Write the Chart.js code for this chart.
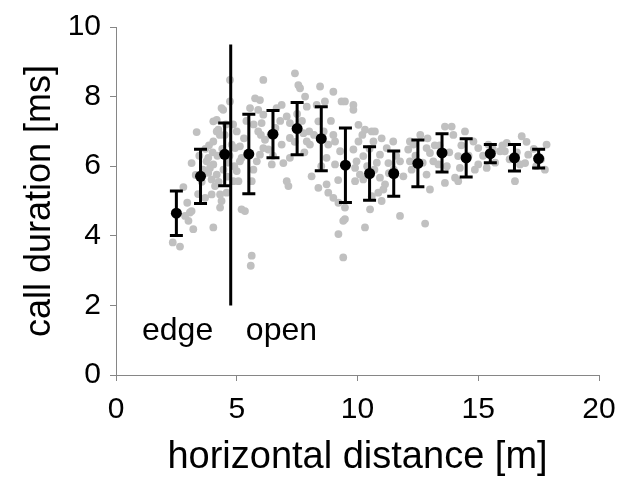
<!DOCTYPE html>
<html>
<head>
<meta charset="utf-8">
<script src="https://cdn.jsdelivr.net/npm/chart.js@4/dist/chart.umd.min.js"></script>
<style>
html,body{margin:0;padding:0;background:#fff;}
#wrap{width:617px;height:480px;}
</style>
</head>
<body>
<div id="wrap"><canvas id="c" width="617" height="480"></canvas></div>
<script>
// ---- data ----
const meanX = [2.5,3.5,4.5,5.5,6.5,7.5,8.5,9.5,10.5,11.5,12.5,13.5,14.5,15.5,16.5,17.5];
const meanY = [4.65,5.71,6.34,6.35,6.92,7.08,6.79,6.03,5.79,5.79,6.08,6.38,6.24,6.36,6.24,6.22];
const meanSD = [0.64,0.78,0.90,1.14,0.68,0.75,0.92,1.07,0.77,0.65,0.67,0.55,0.55,0.26,0.38,0.27];

const grayX = [
2.35,2.65,2.79,3.06,3.13,2.86,3.0,3.2,2.95,4.03,3.34,3.13,3.75,3.89,3.82,4.03,4.17,3.96,4.1,3.96,
4.31,4.37,4.31,3.69,3.82,4.17,4.17,4.03,4.37,4.72,4.72,4.79,4.93,5.13,5.0,4.86,5.2,4.58,4.03,4.24,
4.44,3.55,3.6,3.45,3.7,4.0,4.2,4.4,4.5,4.6,4.45,4.25,4.6,4.7,4.55,4.3,3.85,3.4,3.3,4.85,
4.9,5.13,5.2,5.07,5.0,5.3,5.4,5.62,5.58,5.34,
7.41,6.1,7.55,7.62,8.45,9.0,7.83,5.76,5.96,5.55,5.89,6.86,6.65,7.9,8.31,8.65,9.34,6.1,7.07,7.2,
8.38,6.03,5.89,6.17,6.1,6.31,6.86,7.2,7.76,7.9,8.03,8.79,9.07,9.28,8.72,9.07,5.83,5.96,5.69,6.45,
6.93,7.2,8.1,7.07,7.14,8.38,8.72,8.79,9.0,9.21,5.62,9.21,9.41,9.41,
6.6,6.4,7.5,7.7,8.0,8.2,6.8,7.4,6.0,5.7,8.6,8.9,6.5,7.8,8.5,9.2,9.0,
9.48,9.83,9.83,10.04,10.31,10.59,10.72,10.04,10.66,9.83,10.24,9.96,11.48,11.21,10.93,12.17,12.1,12.31,12.86,13.0,
13.14,12.17,11.76,11.28,9.9,10.1,9.9,10.24,10.93,11.14,10.86,11.07,11.9,12.24,12.86,13.0,11.0,10.59,10.52,9.48,
9.48,11.76,10.31,12.8,
10.4,10.7,10.5,11.5,11.6,12.6,12.4,12.7,10.8,10.2,11.0,12.9,13.2,11.3,
13.62,13.9,13.97,14.45,14.8,15.0,15.42,16.18,16.8,15.9,16.1,17.83,17.07,16.94,16.73,17.76,15.0,14.86,15.35,14.17,
14.24,13.35,14.04,14.17,13.62,16.52,
13.4,13.8,14.6,15.2,15.6,16.3,16.6,17.3,17.6,17.4,15.7,16.0,17.0,14.3,13.7
];
const grayY = [
3.81,3.69,5.4,4.67,4.71,4.57,4.43,4.19,4.95,4.24,6.98,6.09,6.14,5.95,5.81,6.05,5.76,5.62,5.43,5.19,
5.19,5.0,4.81,5.09,6.24,7.33,7.0,6.71,7.67,8.48,7.86,6.62,6.52,6.14,5.86,5.57,4.76,5.24,7.29,7.05,
7.62,5.55,5.9,6.3,6.5,6.4,6.3,6.5,6.9,6.1,5.9,5.55,5.7,6.3,7.2,6.9,6.6,5.2,5.75,7.2,
6.0,6.57,6.24,5.57,7.0,6.8,7.3,3.43,3.14,4.71,
8.67,8.48,8.33,8.24,8.29,8.14,8.0,7.95,7.9,7.67,7.62,7.76,7.67,7.71,7.76,7.86,7.86,7.48,7.43,7.24,
7.29,7.24,7.0,6.76,6.52,6.48,6.62,6.81,6.95,6.71,6.62,6.62,6.71,6.43,6.24,6.05,6.14,6.33,5.9,6.05,
6.09,6.24,5.71,5.57,5.43,5.38,5.48,5.24,5.09,4.95,5.57,4.05,4.43,3.38,
7.1,6.9,7.5,7.3,7.0,6.9,7.3,6.7,6.9,7.2,7.0,7.3,6.3,6.4,6.0,5.6,6.9,
7.86,7.76,7.62,7.19,7.05,7.0,7.0,6.71,6.71,6.48,6.29,6.14,6.71,6.52,6.33,6.71,6.48,6.62,6.52,6.38,
6.14,6.14,6.14,6.09,5.95,5.76,5.57,5.62,5.67,5.48,5.24,5.33,5.71,5.9,5.76,5.33,5.0,5.14,4.76,4.81,
4.48,4.57,4.24,4.35,
6.0,5.9,6.5,5.9,6.3,6.9,6.3,6.1,6.1,6.9,6.8,6.8,6.6,5.8,
7.14,7.14,6.9,7.0,6.71,6.52,6.62,6.67,6.86,6.43,6.43,6.62,6.33,6.09,6.05,5.9,6.05,5.9,5.95,6.29,
5.95,6.05,5.67,5.57,5.52,5.57,
6.6,6.4,6.3,6.3,6.5,6.2,6.4,6.5,6.2,6.0,6.1,6.6,6.7,6.6,6.0
];
const xTickVals = [0,5,10,15,20];
const yTickVals = [0,2,4,6,8,10];
const boundaryX = 4.75;
const boundaryY = [2, 9.5];
const regionLabels = ['edge','open'];
const xTitle = 'horizontal distance [m]';
const yTitle = 'call duration [ms]';

const FONT = '"Liberation Sans", Arial, sans-serif';
const AXIS_COLOR = '#868686';

const errorBars = {
  id: 'errorBars',
  beforeDatasetDraw(chart, args) {
    if (args.index !== 0) return;
    const {ctx, scales: {x, y}} = chart;
    ctx.save();
    ctx.strokeStyle = '#000';
    ctx.lineWidth = 3;
    ctx.lineCap = 'butt';
    for (let i = 0; i < meanX.length; i++) {
      const px = x.getPixelForValue(meanX[i]);
      const top = y.getPixelForValue(meanY[i] + meanSD[i]);
      const bot = y.getPixelForValue(meanY[i] - meanSD[i]);
      const hw = 6.5;
      ctx.beginPath();
      ctx.moveTo(px, top); ctx.lineTo(px, bot);
      ctx.moveTo(px - hw, top); ctx.lineTo(px + hw, top);
      ctx.moveTo(px - hw, bot); ctx.lineTo(px + hw, bot);
      ctx.stroke();
    }
    ctx.restore();
  }
};

const regionText = {
  id: 'regionText',
  afterDraw(chart) {
    const {ctx, scales: {x, y}} = chart;
    ctx.save();
    ctx.fillStyle = '#000';
    ctx.font = '32px ' + FONT;
    ctx.textAlign = 'center';
    ctx.textBaseline = 'alphabetic';
    ctx.fillText(regionLabels[0], x.getPixelForValue(2.55), y.getPixelForValue(1.0));
    ctx.fillText(regionLabels[1], x.getPixelForValue(6.85), y.getPixelForValue(1.0));
    ctx.restore();
  }
};

new Chart(document.getElementById('c'), {
  type: 'scatter',
  data: {
    datasets: [
      {
        label: 'mean',
        data: meanX.map((v, i) => ({x: v, y: meanY[i]})),
        backgroundColor: '#000',
        borderColor: '#000',
        pointRadius: 5.5,
        pointHoverRadius: 5.5,
        borderWidth: 0
      },
      {
        type: 'line',
        label: 'boundary',
        data: boundaryY.map(v => ({x: boundaryX, y: v})),
        borderColor: '#000',
        borderWidth: 3,
        pointRadius: 0,
        fill: false
      },
      {
        label: 'calls',
        data: grayX.map((v, i) => ({x: v, y: grayY[i]})),
        backgroundColor: '#c0c0c0',
        borderColor: '#c0c0c0',
        pointRadius: 3.9,
        borderWidth: 0
      }
    ]
  },
  options: {
    responsive: false,
    animation: false,
    events: [],
    layout: {padding: {top: 25, right: 18, left: 0, bottom: 0}},
    plugins: {legend: {display: false}, tooltip: {enabled: false}},
    scales: {
      x: {
        type: 'linear',
        min: 0, max: 20,
        afterBuildTicks(s) { s.ticks = xTickVals.map(v => ({value: v})); },
        afterFit(s) { s.height = 105; s.paddingRight = 0; s.paddingLeft = 0; },
        ticks: {font: {family: FONT, size: 30}, color: '#000', padding: 11, maxRotation: 0},
        grid: {drawOnChartArea: false, drawTicks: true, tickLength: 6, color: AXIS_COLOR},
        border: {color: AXIS_COLOR, width: 1},
        title: {display: true, text: xTitle, font: {family: FONT, size: 38}, color: '#000', padding: {top: 0, bottom: 0}}
      },
      y: {
        type: 'linear',
        min: 0, max: 10,
        afterBuildTicks(s) { s.ticks = yTickVals.map(v => ({value: v})); },
        afterFit(s) { s.width = 116; },
        ticks: {font: {family: FONT, size: 30}, color: '#000', padding: 9},
        grid: {drawOnChartArea: false, drawTicks: true, tickLength: 6, color: AXIS_COLOR},
        border: {color: AXIS_COLOR, width: 1},
        title: {display: true, text: yTitle, font: {family: FONT, size: 36}, color: '#000', padding: {top: 18, bottom: 0}}
      }
    }
  },
  plugins: [errorBars, regionText]
});
</script>
</body>
</html>
